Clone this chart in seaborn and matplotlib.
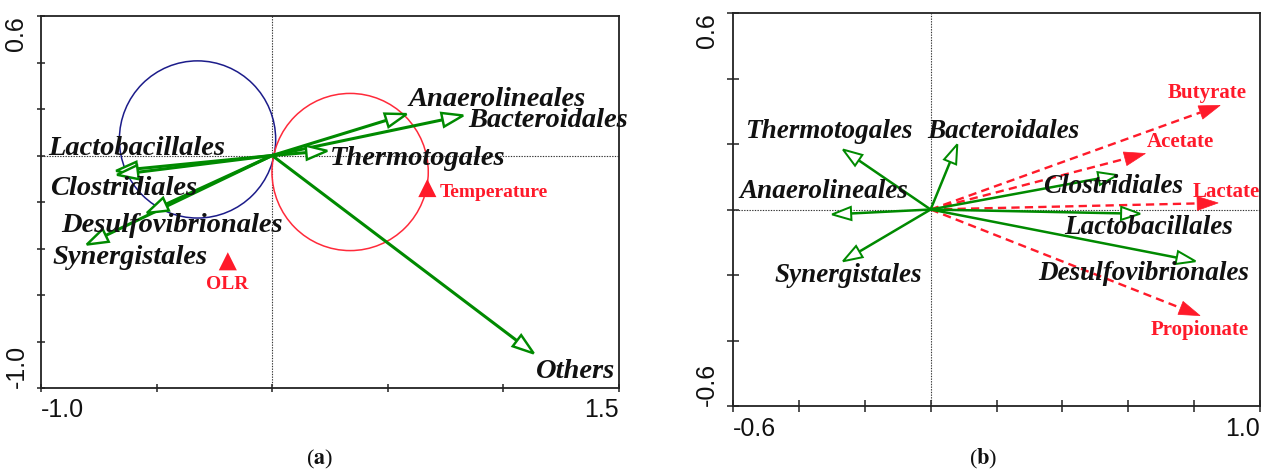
import numpy as np
import pandas as pd
import matplotlib
matplotlib.use("Agg")
import matplotlib.pyplot as plt
import seaborn as sns
from matplotlib.patches import Polygon, Circle

# ---------------- data: panel (a) ----------------
a_species = ["Anaerolineales", "Bacteroidales", "Thermotogales", "Lactobacillales",
             "Clostridiales", "Desulfovibrionales", "Synergistales", "Others"]
a_x = [0.581, 0.826, 0.238, -0.675, -0.671, -0.542, -0.802, 1.131]
a_y = [0.178, 0.172, 0.020, -0.066, -0.083, -0.247, -0.383, -0.851]
a_lab_x = [0.589, 0.848, 0.251, -0.970, -0.961, -0.911, -0.950, 1.139]
a_lab_y = [0.243, 0.149, -0.012, 0.031, -0.141, -0.302, -0.439, -0.930]

a_env = ["Temperature", "OLR"]
a_env_x = [0.671, -0.192]
a_env_y = [-0.140, -0.455]
a_env_lab_x = [0.723, -0.195]
a_env_lab_y = [-0.158, -0.555]

circle_cx = [-0.323, 0.337]
circle_cy = [0.069, -0.071]
circle_r = [0.338, 0.338]
circle_col = ["#1c1c8a", "#ff2a3a"]

# ---------------- data: panel (b) ----------------
b_species = ["Thermotogales", "Bacteroidales", "Anaerolineales", "Synergistales",
             "Clostridiales", "Lactobacillales", "Desulfovibrionales"]
b_x = [-0.266, 0.081, -0.299, -0.266, 0.567, 0.636, 0.804]
b_y = [0.183, 0.199, -0.015, -0.158, 0.105, -0.013, -0.158]
b_lab_x = [-0.564, -0.010, -0.582, -0.473, 0.341, 0.406, 0.326]
b_lab_y = [0.237, 0.237, 0.056, -0.201, 0.069, -0.056, -0.196]

b_env = ["Butyrate", "Acetate", "Lactate", "Propionate"]
b_env_x = [0.879, 0.652, 0.873, 0.818]
b_env_y = [0.318, 0.171, 0.020, -0.324]
b_env_lab_x = [0.721, 0.657, 0.794, 0.669]
b_env_lab_y = [0.355, 0.205, 0.054, -0.367]

GREEN = "#008a00"
RED = "#ff1a2a"

sns.set_theme(style="white")
plt.rcParams["font.family"] = ["Liberation Sans", "DejaVu Sans"]
plt.rcParams["mathtext.fontset"] = "stix"

fig = plt.figure(figsize=(12.63, 4.75), dpi=100)
axA = fig.add_axes([41 / 1263, 87 / 475, 578 / 1263, 372 / 475])
axB = fig.add_axes([733 / 1263, 69 / 475, 527 / 1263, 393 / 475])


def draw_arrow(ax, x, y, color, lw, hl, hw, open_head=True, ls="-"):
    p0 = ax.transData.transform((0, 0))
    p1 = ax.transData.transform((x, y))
    d = p1 - p0
    L = np.hypot(*d)
    u = d / L
    n = np.array([-u[1], u[0]])
    base = p1 - u * hl
    inv = ax.transData.inverted()
    b_d = inv.transform(base)
    pts = inv.transform(np.array([p1, base + n * hw, base - n * hw]))
    ax.plot([0, b_d[0]], [0, b_d[1]], color=color, lw=lw, ls=ls,
            solid_capstyle="butt", zorder=3)
    if open_head:
        poly = Polygon(pts, closed=True, facecolor="white", edgecolor=color,
                       lw=lw * 0.8, zorder=4, joinstyle="miter")
    else:
        poly = Polygon(pts, closed=True, facecolor=color, edgecolor=color,
                       lw=0.5, zorder=4)
    ax.add_patch(poly)


def style_axes(ax, xlim, ylim, xticks, yticks, tlen):
    ax.set_xlim(*xlim)
    ax.set_ylim(*ylim)
    for s in ax.spines.values():
        s.set_color("#222222")
        s.set_linewidth(1.3)
        s.set_visible(True)
    ax.axhline(0, color="#333333", lw=0.8, ls=(0, (1.2, 1.2)), zorder=1)
    ax.axvline(0, color="#333333", lw=0.8, ls=(0, (1.2, 1.2)), zorder=1)
    ax.set_xticks(xticks)
    ax.set_yticks(yticks)
    xl = [""] * len(xticks)
    xl[0] = f"{xticks[0]:.1f}"
    xl[-1] = f"{xticks[-1]:.1f}"
    yl = [""] * len(yticks)
    yl[0] = f"{yticks[0]:.1f}"
    yl[-1] = f"{yticks[-1]:.1f}"
    ax.set_xticklabels(xl, fontsize=18, family="Liberation Sans", color="#111111")
    ax.set_yticklabels(yl, fontsize=18, family="Liberation Sans", color="#111111",
                       rotation=90)
    ax.tick_params(axis="both", which="both", left=True, bottom=True, top=False,
                   right=False, direction="inout", length=tlen, width=1.1,
                   color="#222222")
    ax.tick_params(axis="x", pad=4)
    ax.tick_params(axis="y", pad=6)
    xt = ax.get_xticklabels()
    xt[0].set_ha("left")
    xt[-1].set_ha("right")
    yt = ax.get_yticklabels()
    yt[0].set_va("bottom")
    yt[-1].set_va("top")
    ax.set_xlabel("")
    ax.set_ylabel("")
    ax.grid(False)


# ---------------- panel (a) ----------------
style_axes(axA, (-1.0, 1.5), (-1.0, 0.6),
           [-1.0, -0.5, 0.0, 0.5, 1.0, 1.5],
           [-1.0, -0.8, -0.6, -0.4, -0.2, 0.0, 0.2, 0.4, 0.6], 6)

for cx, cy, r, c in zip(circle_cx, circle_cy, circle_r, circle_col):
    axA.add_patch(Circle((cx, cy), r, fill=False, edgecolor=c, lw=1.1, zorder=2))

for x, y in zip(a_x, a_y):
    draw_arrow(axA, x, y, GREEN, 2.2, 21, 7)

for name, lx, ly in zip(a_species, a_lab_x, a_lab_y):
    axA.text(lx, ly, name, family="Liberation Serif", weight="bold", style="italic",
             fontsize=20.5, ha="left", va="center", color="#111111", zorder=5)

env_a = pd.DataFrame({"x": a_env_x, "y": a_env_y, "name": a_env})
sns.scatterplot(data=env_a, x="x", y="y", marker="^", s=170, color=RED,
                edgecolor="none", ax=axA, legend=False, zorder=5)
axA.set_xlabel("")
axA.set_ylabel("")
axA.text(a_env_lab_x[0], a_env_lab_y[0], a_env[0], family="Liberation Serif",
         weight="bold", fontsize=14, color=RED, ha="left", va="center")
axA.text(a_env_lab_x[1], a_env_lab_y[1], a_env[1], family="Liberation Serif",
         weight="bold", fontsize=14, color=RED, ha="center", va="center")

# ---------------- panel (b) ----------------
style_axes(axB, (-0.6, 1.0), (-0.6, 0.6),
           [-0.6, -0.4, -0.2, 0.0, 0.2, 0.4, 0.6, 0.8, 1.0],
           [-0.6, -0.4, -0.2, 0.0, 0.2, 0.4, 0.6], 8)

for x, y in zip(b_env_x, b_env_y):
    draw_arrow(axB, x, y, RED, 1.7, 21, 7, open_head=False, ls=(0, (3.5, 2.2)))

for x, y in zip(b_x, b_y):
    draw_arrow(axB, x, y, GREEN, 1.8, 19, 6.5)

for name, lx, ly in zip(b_species, b_lab_x, b_lab_y):
    axB.text(lx, ly, name, family="Liberation Serif", weight="bold", style="italic",
             fontsize=19.5, ha="left", va="center", color="#111111", zorder=5)

for name, lx, ly in zip(b_env, b_env_lab_x, b_env_lab_y):
    axB.text(lx, ly, name, family="Liberation Serif", weight="bold", fontsize=15,
             color=RED, ha="left", va="center", zorder=5)

# ---------------- captions ----------------
fig.text(320 / 1263, 4 / 475, r"($\mathbf{a}$)", family="Liberation Serif",
         fontsize=16, ha="center", va="bottom", color="#111111")
fig.text(983 / 1263, 4 / 475, r"($\mathbf{b}$)", family="Liberation Serif",
         fontsize=16, ha="center", va="bottom", color="#111111")

fig.savefig("out.png", dpi=100)
